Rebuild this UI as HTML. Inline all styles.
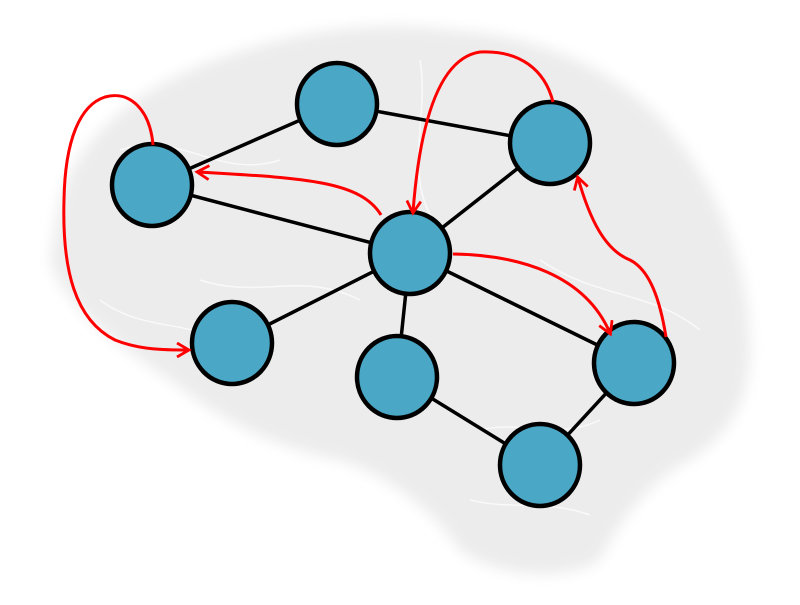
<!DOCTYPE html>
<html><head><style>html,body{margin:0;padding:0;background:#fff}</style></head><body>
<svg width="800" height="600" viewBox="0 0 800 600" xmlns="http://www.w3.org/2000/svg">
<defs>
<filter id="bl"><feGaussianBlur stdDeviation="7"/></filter>
<marker id="ar" markerWidth="16" markerHeight="16" refX="12" refY="8" orient="auto" markerUnits="userSpaceOnUse">
<path d="M1,1 L13,8 L1,15" fill="none" stroke="#f00" stroke-width="2.8"/></marker>
</defs>
<path filter="url(#bl)" fill="#ececec" d="M60,200 C80,130 150,80 230,55 C300,30 380,20 450,30 C540,35 620,70 670,130 C720,190 750,270 750,350 C750,410 720,440 690,460 C650,480 620,520 600,560 C570,580 500,580 460,550 C440,520 400,480 340,460 C280,450 220,420 170,380 C110,340 60,300 50,260 Z"/>
<g stroke="#fff" stroke-width="1.5" fill="none" opacity="0.7">
<path d="M120,150 C180,130 220,180 280,160 M420,60 C430,120 400,180 440,230 M540,260 C600,300 650,290 700,330 M200,280 C260,300 300,270 360,300 M480,430 C520,420 560,440 600,420 M470,500 C510,510 550,500 590,515 M100,300 C140,330 180,320 220,340"/>
</g>
<g stroke="#000" stroke-width="3.5">
<line x1="152" y1="185" x2="337" y2="104"/>
<line x1="337" y1="104" x2="550" y2="143"/>
<line x1="152" y1="185" x2="410" y2="253"/>
<line x1="550" y1="143" x2="410" y2="253"/>
<line x1="410" y1="253" x2="232" y2="343"/>
<line x1="410" y1="253" x2="397" y2="377"/>
<line x1="410" y1="253" x2="634" y2="363"/>
<line x1="397" y1="377" x2="540" y2="465"/>
<line x1="540" y1="465" x2="634" y2="363"/>
</g>
<g fill="#4aa8c6" stroke="#000" stroke-width="4.5">
<ellipse cx="152" cy="185" rx="40" ry="41"/>
<ellipse cx="337" cy="104" rx="40" ry="41"/>
<ellipse cx="550" cy="143" rx="40" ry="41"/>
<ellipse cx="410" cy="253" rx="40" ry="41"/>
<ellipse cx="232" cy="343" rx="40" ry="41"/>
<ellipse cx="397" cy="377" rx="40" ry="41"/>
<ellipse cx="634" cy="363" rx="40" ry="41"/>
<ellipse cx="540" cy="465" rx="40" ry="41"/>
</g>
<g stroke="#f00" stroke-width="3" fill="none">
<path marker-end="url(#ar)" d="M153,145 C150,110 130,90 105,97 C80,105 65,140 64,200 C62,270 75,320 115,340 C140,350 165,350 188,350"/>
<path marker-end="url(#ar)" d="M381,215 C360,180 300,178 198,172"/>
<path marker-end="url(#ar)" d="M553,102 C545,70 520,50 480,52 C440,58 420,120 413,212"/>
<path marker-end="url(#ar)" d="M453,254 C520,255 585,275 610,333"/>
<path marker-end="url(#ar)" d="M666,337 C660,300 650,270 630,260 C605,250 590,220 578,178"/>
</g>
</svg>
</body></html>
